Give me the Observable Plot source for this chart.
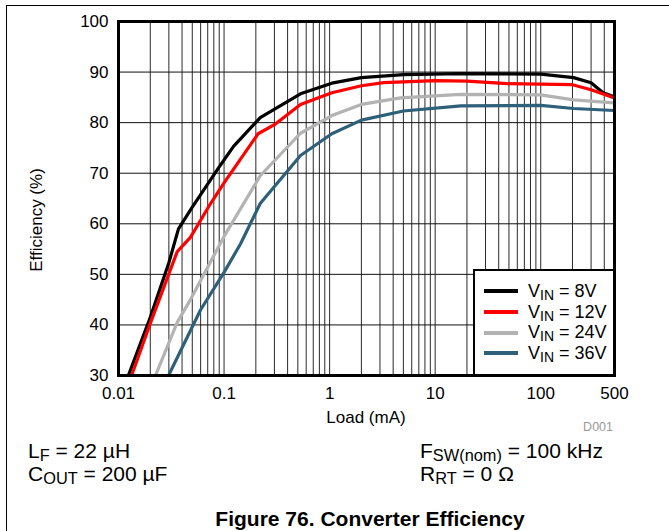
<!DOCTYPE html>
<html><head><meta charset="utf-8">
<script src="https://cdn.jsdelivr.net/npm/d3@7"></script>
<script src="https://cdn.jsdelivr.net/npm/@observablehq/plot@0.6"></script>
<style>
body{margin:0;background:#fff;font-family:"Liberation Sans",Arial,sans-serif;color:#000;}
#wrap{position:relative;width:669px;height:531px;overflow:hidden;background:#fff;}
#border{position:absolute;left:6px;top:5px;width:700px;height:600px;border-left:1px solid #000;border-top:1px solid #000;box-sizing:border-box;}
#chart{position:absolute;left:0;top:0;}
.abs{position:absolute;white-space:nowrap;line-height:1;}
#legend{position:absolute;left:473px;top:269px;width:142px;height:107px;border:2px solid #000;background:#fff;box-sizing:border-box;}
.lg{position:absolute;left:9px;height:20px;font-size:18px;line-height:20px;white-space:nowrap;}
.sw{display:inline-block;width:34px;height:4px;vertical-align:middle;margin-right:10px;position:relative;top:-1px;}
sub{font-size:0.78em;vertical-align:-0.2em;line-height:0;}
</style></head>
<body><div id="wrap"><div id="border"></div><div id="chart"></div></div>
<script>
// ---- data ----
const seriesNames = ["8V", "12V", "24V", "36V"];
const seriesColors = ["#000000", "#ff0000", "#b3b3b3", "#2e6079"];

const load8 = [0.0124, 0.02, 0.03, 0.037, 0.05, 0.089, 0.123, 0.22, 0.53, 1.05, 2, 5, 17.5, 100, 205, 300, 390, 500];
const eff8  = [30, 41.5, 52.3, 59, 63.3, 71.1, 75.3, 81.0, 85.7, 87.8, 88.9, 89.5, 89.7, 89.6, 88.9, 87.9, 85.9, 85.1];

const load12 = [0.0133, 0.02, 0.036, 0.048, 0.0745, 0.1, 0.21, 0.3, 0.53, 1.05, 2, 3.25, 10, 20, 48, 200, 300, 500];
const eff12  = [30, 40.3, 54.5, 57.3, 64.0, 68.1, 77.8, 79.6, 83.6, 85.9, 87.3, 87.9, 88.3, 88.2, 87.7, 87.5, 86.5, 84.9];

const load24 = [0.0224, 0.036, 0.048, 0.1, 0.22, 0.53, 1.05, 2, 4.7, 17.5, 100, 205, 500];
const eff24  = [30, 40.5, 45.0, 57.5, 69.5, 77.9, 81.4, 83.6, 84.9, 85.6, 85.5, 84.5, 83.9];

const load36 = [0.0298, 0.06, 0.1, 0.143, 0.22, 0.53, 1.05, 2, 5, 17.5, 100, 205, 500];
const eff36  = [30, 43.0, 50.4, 56.0, 64.0, 73.5, 77.8, 80.5, 82.3, 83.3, 83.4, 82.8, 82.4];

const xTicks = [0.01, 0.1, 1, 10, 100, 500];
const yTicks = [30, 40, 50, 60, 70, 80, 90, 100];

// ---- build table ----
const loads = [load8, load12, load24, load36];
const effs = [eff8, eff12, eff24, eff36];
const data = [];
seriesNames.forEach((s, i) => loads[i].forEach((l, j) => data.push({series: s, load: l, eff: effs[i][j]})));

// log grid positions (1..9 per decade inside domain)
const gridX = [];
[0.01, 0.1, 1, 10, 100].forEach(d => { for (let k = 1; k <= 9; k++) { const v = d * k; if (v > 0.01 && v < 500) gridX.push(v); } });

const chart = Plot.plot({
  width: 669, height: 440,
  marginLeft: 118, marginRight: 55, marginTop: 21, marginBottom: 65,
  x: {type: "log", domain: [0.01, 500], axis: null},
  y: {domain: [30, 100]},
  color: {domain: seriesNames, range: seriesColors},
  style: {fontFamily: "'Liberation Sans', Arial, sans-serif", fontSize: "17px", color: "#000", background: "transparent", overflow: "visible"},
  marks: [
    Plot.ruleX(gridX, {stroke: "#2a2a2a", strokeWidth: 1}),
    Plot.ruleY(yTicks.slice(1, -1), {stroke: "#111", strokeWidth: 1}),
    Plot.line(data, {x: "load", y: "eff", z: "series", stroke: "series", strokeWidth: 3.2, clip: true}),
    Plot.frame({stroke: "#000", strokeWidth: 3}),
    Plot.text(xTicks, {x: d => d, frameAnchor: "bottom", dy: 23, text: d => String(d), fontSize: 17, fill: "#000"}),
    Plot.axisY({ticks: yTicks, tickSize: 0, tickPadding: 10, label: null, fontSize: 17})
  ]
});
document.getElementById("chart").appendChild(chart);

const wrap = document.getElementById("wrap");
function addText(html, css) { const d = document.createElement("div"); d.className = "abs"; d.innerHTML = html; Object.assign(d.style, css); wrap.appendChild(d); return d; }

// axis labels
addText("Efficiency (%)", {left: "36px", top: "220px", fontSize: "17px", transform: "translate(-50%,-50%) rotate(-90deg)"});
addText("Load (mA)", {left: "366px", top: "409px", fontSize: "17px", transform: "translateX(-50%)"});
addText("D001", {left: "613px", top: "421px", fontSize: "12.5px", color: "#999", transform: "translateX(-100%)"});

// legend
const lg = document.createElement("div"); lg.id = "legend"; wrap.appendChild(lg);
seriesNames.forEach((s, i) => {
  const e = document.createElement("div"); e.className = "lg";
  e.style.top = (10 + i * 20.7) + "px";
  e.innerHTML = `<span class="sw" style="background:${seriesColors[i]}"></span>V<sub>IN</sub> = ${s}`;
  lg.appendChild(e);
});

// conditions + caption
addText("L<sub>F</sub> = 22 µH", {left: "28px", top: "440px", fontSize: "21px"});
addText("C<sub>OUT</sub> = 200 µF", {left: "28px", top: "463px", fontSize: "21px"});
addText("F<sub>SW(nom)</sub> = 100 kHz", {left: "420px", top: "440px", fontSize: "21px"});
addText("R<sub>RT</sub> = 0 Ω", {left: "420px", top: "463px", fontSize: "21px"});
addText("Figure 76. Converter Efficiency", {left: "370px", top: "508px", fontSize: "21px", fontWeight: "bold", transform: "translateX(-50%)"});
</script></body></html>
